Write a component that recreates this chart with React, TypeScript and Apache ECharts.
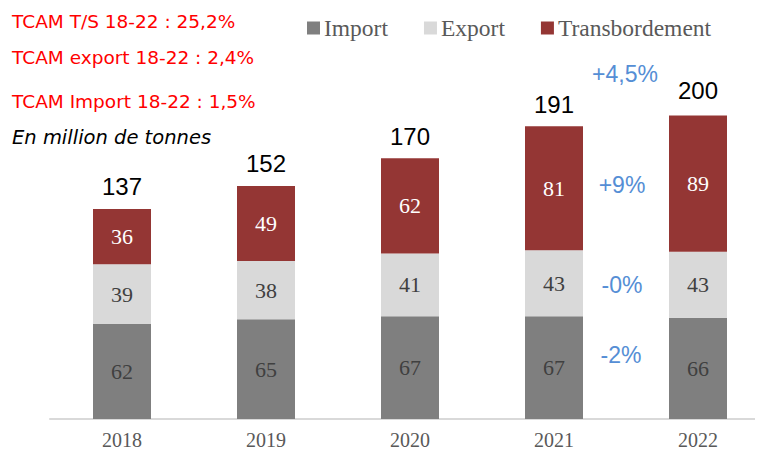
import React, { useEffect, useRef } from "react";
import * as echarts from "echarts";

const years = ["2018", "2019", "2020", "2021", "2022"];
const importVals = [62, 65, 67, 67, 66];
const exportVals = [39, 38, 41, 43, 43];
const transVals = [36, 49, 62, 81, 89];
const totals = [137, 152, 170, 191, 200];
const tcamLines = ["TCAM T/S 18-22 : 25,2%", "TCAM export 18-22 : 2,4%", "TCAM Import 18-22 : 1,5%"];
const growthLabels = ["+4,5%", "+9%", "-0%", "-2%"];
const unitText = "En million de tonnes";

export default function App() {
  const ref = useRef<HTMLDivElement>(null);
  useEffect(() => {
    if (!ref.current) return;
    const chart = echarts.init(ref.current, null, { renderer: "svg" });
    const serif = "Liberation Serif";
    const sans = "DejaVu Sans";
    chart.setOption({
      animation: false,
      legend: {
        data: ["Import", "Export", "Transbordement"],
        left: 302,
        top: 11,
        itemWidth: 13,
        itemHeight: 13,
        itemGap: 36,
        icon: "rect",
        textStyle: { fontFamily: serif, fontSize: 23.5, color: "#595959", padding: [0, 0, 0, -1] },
      },
      grid: { left: 50, width: 720, top: 51, bottom: 36 },
      xAxis: {
        type: "category",
        data: years,
        axisLine: { lineStyle: { color: "#D9D9D9", width: 2 } },
        axisTick: { show: false },
        axisLabel: { fontFamily: serif, fontSize: 20, color: "#595959", margin: 11 },
      },
      yAxis: { type: "value", min: 0, max: 240, show: false, splitLine: { show: false } },
      series: [
        {
          name: "Import",
          type: "bar",
          stack: "t",
          barWidth: 58,
          data: importVals,
          itemStyle: { color: "#7F7F7F" },
          label: { show: true, position: "inside", fontFamily: serif, fontSize: 22, color: "#404040" },
        },
        {
          name: "Export",
          type: "bar",
          stack: "t",
          data: exportVals,
          itemStyle: { color: "#D9D9D9" },
          label: { show: true, position: "inside", fontFamily: serif, fontSize: 22, color: "#404040" },
        },
        {
          name: "Transbordement",
          type: "bar",
          stack: "t",
          data: transVals,
          itemStyle: { color: "#943634" },
          label: { show: true, position: "inside", fontFamily: serif, fontSize: 22, color: "#FFFFFF" },
        },
        {
          name: "Total",
          type: "line",
          data: totals,
          symbol: "circle",
          symbolSize: 2,
          showSymbol: true,
          itemStyle: { color: "rgba(0,0,0,0)", borderWidth: 0 },
          lineStyle: { width: 0, color: "rgba(0,0,0,0)" },
          label: {
            show: true,
            position: "top",
            distance: 9,
            fontFamily: "Liberation Sans",
            fontSize: 24,
            color: "#000000",
          },
        },
      ],
      graphic: [
        ...tcamLines.map((t, i) => ({
          type: "text",
          left: 12,
          top: [12, 48, 92][i],
          style: { text: t, fontFamily: sans, fontSize: 18.5, fill: "#FF0000" },
        })),
        {
          type: "text",
          left: 12,
          top: 127,
          style: { text: unitText, fontFamily: sans, fontSize: 19.5, fontStyle: "italic", fill: "#000000" },
        },
        ...growthLabels.map((t, i) => ({
          type: "text",
          x: [625, 622, 622, 621][i],
          y: [74, 185, 285, 355][i],
          style: {
            text: t,
            fontFamily: "Liberation Sans",
            fontSize: 23,
            fill: "#558ED5",
            align: "center",
            verticalAlign: "middle",
          },
        })),
      ],
    });
    return () => chart.dispose();
  }, []);
  return (
    <div style={{ width: 763, height: 455, margin: -8, overflow: "hidden" }}>
      <div ref={ref} style={{ width: 780, height: 455 }} />
    </div>
  );
}
